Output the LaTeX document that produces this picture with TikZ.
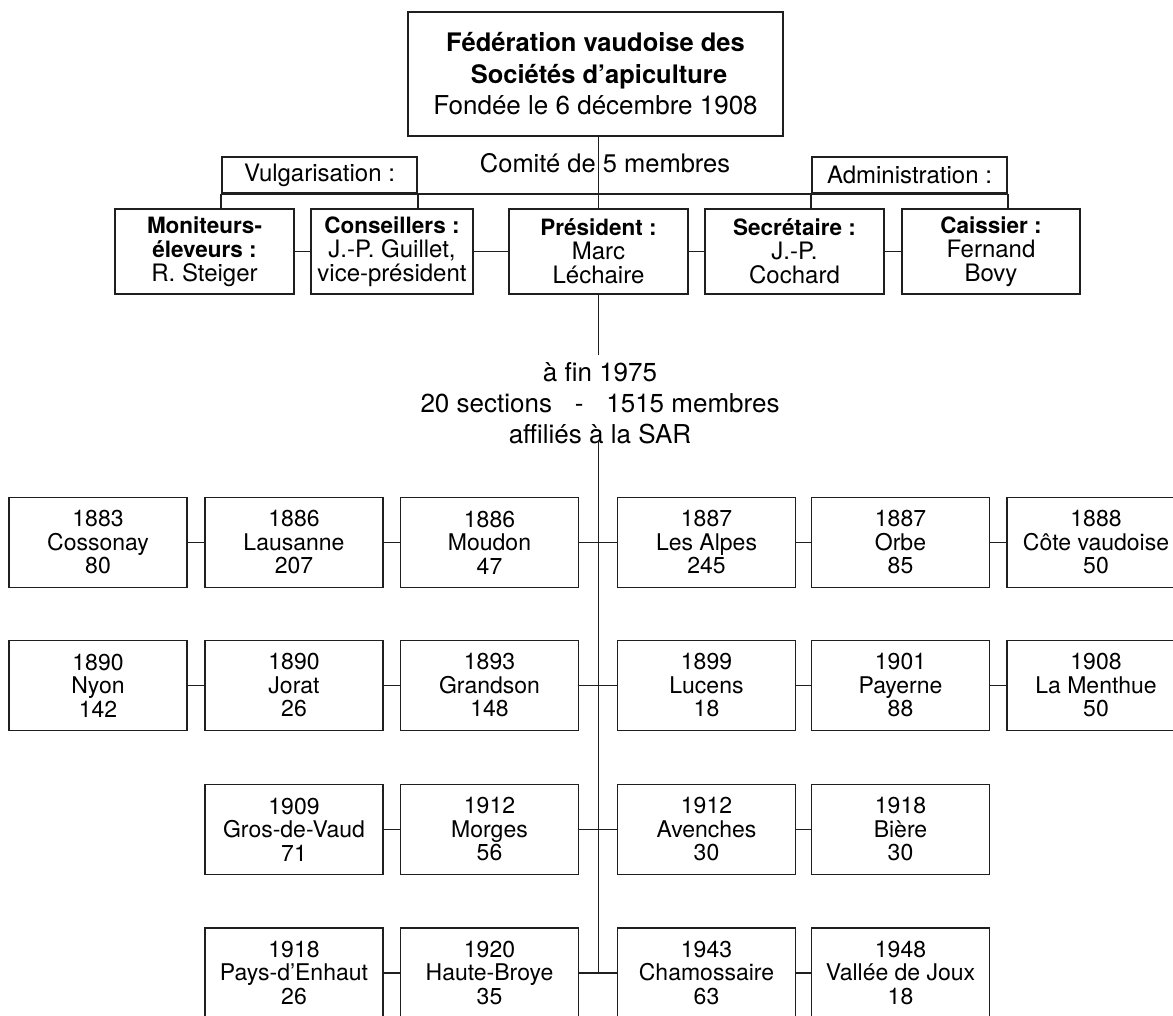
\documentclass[tikz,border=0pt]{standalone}
\usepackage{fontspec}
\setmainfont{TeX Gyre Heros}
\newcommand\hdr[1]{{\fontsize{22.5}{24}\selectfont\bfseries #1}}
\begin{document}
\begin{tikzpicture}[x=1pt,y=-1pt]
\tikzset{
  ink/.style={draw=black!88},
  box/.style={ink, line width=1.8pt, inner sep=0pt, align=center},
  secbox/.style={box, minimum width=178pt, minimum height=90pt, font=\fontsize{23}{23.5}\selectfont},
  combox/.style={box, minimum height=85pt, font=\fontsize{24}{24}\selectfont},
  labbox/.style={box, minimum width=195pt, minimum height=36pt, font=\fontsize{24}{26}\selectfont},
  conn/.style={ink, line width=1.4pt},
  bigtext/.style={inner sep=0pt, align=center, font=\fontsize{26}{31}\selectfont},
}
\useasboundingbox (0,0) rectangle (1173,1016);
\fill[white] (0,0) rectangle (1173,1016);
\clip (0,0) rectangle (1173,1016);

% top box
\node[box, minimum width=375pt, minimum height=124pt, font=\fontsize{26}{31.5}\selectfont] (top) at (595.5,74)
  {{\fontsize{25.5}{31.5}\selectfont\bfseries Fédération vaudoise des}\\
   {\fontsize{25.5}{31.5}\selectfont\bfseries\ Sociétés d’apiculture}\\
   {\fontsize{26}{31.5}\selectfont Fondée le 6 décembre 1908}};

\node[inner sep=0pt, font=\fontsize{25.5}{30}\selectfont] (comite) at (605,163) {Comité de 5 membres};

% label boxes
\node[labbox] (vulg) at (319.5,175) {Vulgarisation :};
\node[labbox] (admin) at (909.5,175) {Administration :};

% committee
\node[combox, minimum width=179pt] (mon) at (204.5,251.5) {\hdr{Moniteurs-}\\\hdr{éleveurs :}\\R. Steiger};
\node[combox, minimum width=162pt] (cons) at (392,251.5) {\hdr{Conseillers :}\\J.-P. Guillet,\\vice-président};
\node[combox, minimum width=179pt] (pres) at (598.5,251.5) {\hdr{Président :}\\Marc\\Léchaire};
\node[combox, minimum width=179pt] (sec) at (794.5,251.5) {\hdr{Secrétaire :}\\J.-P.\\Cochard};
\node[combox, minimum width=178pt] (cais) at (991,251.5) {\hdr{Caissier :}\\Fernand\\Bovy};

% committee connectors
\draw[conn] (pres.north |- top.south) -- (pres.north);
\draw[conn] (vulg.south west) -- (admin.south east);
\draw[conn] (vulg.south west) -- (vulg.south west |- mon.north);
\draw[conn] (vulg.south east) -- (vulg.south east |- cons.north);
\draw[conn] (admin.south west) -- (admin.south west |- sec.north);
\draw[conn] (admin.south east) -- (admin.south east |- cais.north);
\draw[conn] (mon.east) -- (cons.west);
\draw[conn] (cons.east) -- (pres.west);
\draw[conn] (pres.east) -- (sec.west);
\draw[conn] (sec.east) -- (cais.west);

% middle text and trunk
\node[bigtext] (fin) at (600,403) {à fin 1975\\20 sections\hspace{0.6em} -\hspace{0.6em} 1515 membres\\affiliés à la SAR};
\coordinate (t1) at (598.5,355);
\coordinate (t2) at (598.5,441);
\coordinate (t3) at (598.5,973);
\draw[conn] (pres.south) -- (t1);
\draw[conn] (t2) -- (t3);

% row 1
\node[secbox] (cossonay) at (98,542.5) {1883\\Cossonay\\80};
\node[secbox] (lausanne) at (294,542.5) {1886\\Lausanne\\207};
\node[secbox] (moudon) at (489.5,542.5) {1886\\Moudon\\47};
\node[secbox] (alpes) at (706.5,542.5) {1887\\Les Alpes\\245};
\node[secbox] (orbe) at (900.5,542.5) {1887\\Orbe\\85};
\node[secbox] (cote) at (1096,542.5) {1888\\Côte vaudoise\\50};
% row 2
\node[secbox] (nyon) at (98,685.5) {1890\\Nyon\\142};
\node[secbox] (jorat) at (294,685.5) {1890\\Jorat\\26};
\node[secbox] (grandson) at (489.5,685.5) {1893\\Grandson\\148};
\node[secbox] (lucens) at (706.5,685.5) {1899\\Lucens\\18};
\node[secbox] (payerne) at (900.5,685.5) {1901\\Payerne\\88};
\node[secbox] (menthue) at (1096,685.5) {1908\\La Menthue\\50};
% row 3
\node[secbox] (gros) at (294,829.5) {1909\\Gros-de-Vaud\\71};
\node[secbox] (morges) at (489.5,829.5) {1912\\Morges\\56};
\node[secbox] (avenches) at (706.5,829.5) {1912\\Avenches\\30};
\node[secbox] (biere) at (900.5,829.5) {1918\\Bière\\30};
% row 4
\node[secbox] (pays) at (294,973) {1918\\Pays-d'Enhaut\\26};
\node[secbox] (broye) at (489.5,973) {1920\\Haute-Broye\\35};
\node[secbox] (chamo) at (706.5,973) {1943\\Chamossaire\\63};
\node[secbox] (joux) at (900.5,973) {1948\\Vallée de Joux\\18};

% row connectors
\draw[conn] (cossonay.east) -- (lausanne.west);
\draw[conn] (lausanne.east) -- (moudon.west);
\draw[conn] (moudon.east) -- (alpes.west);
\draw[conn] (alpes.east) -- (orbe.west);
\draw[conn] (orbe.east) -- (cote.west);
\draw[conn] (nyon.east) -- (jorat.west);
\draw[conn] (jorat.east) -- (grandson.west);
\draw[conn] (grandson.east) -- (lucens.west);
\draw[conn] (lucens.east) -- (payerne.west);
\draw[conn] (payerne.east) -- (menthue.west);
\draw[conn] (gros.east) -- (morges.west);
\draw[conn] (morges.east) -- (avenches.west);
\draw[conn] (avenches.east) -- (biere.west);
\draw[conn] (pays.east) -- (broye.west);
\draw[conn] (broye.east) -- (chamo.west);
\draw[conn] (chamo.east) -- (joux.west);
\end{tikzpicture}
\end{document}
